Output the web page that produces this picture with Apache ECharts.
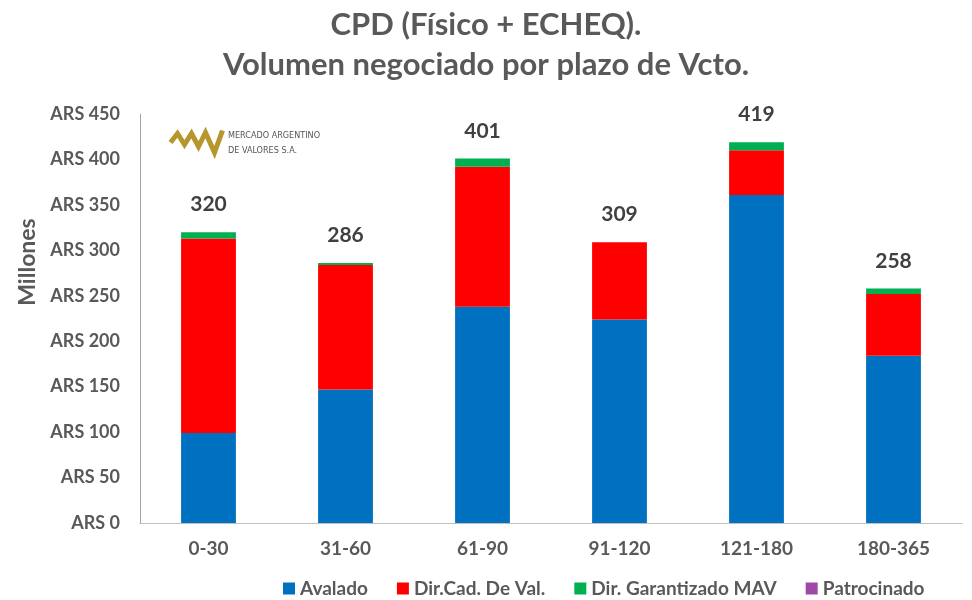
<!DOCTYPE html>
<html>
<head>
<meta charset="utf-8">
<script src="https://cdn.jsdelivr.net/npm/echarts@6/dist/echarts.min.js"></script>
<style>
  html, body {margin:0; padding:0; background:#fff;}
  #chart {width:972px; height:600px;}
</style>
</head>
<body>
<div id="chart"></div>
<script>
// datos (millones de ARS)
var plazos = ['0-30', '31-60', '61-90', '91-120', '121-180', '180-365'];
var avalado = [99, 147, 238, 224, 361, 184];
var dirCad = [214, 137, 154, 85, 49, 68];
var dirGarantizado = [7, 2, 9, 0, 9, 6];
var patrocinado = [0, 0, 0, 0, 0, 0];
var totales = [320, 286, 401, 309, 419, 258];

var chartDom = document.getElementById('chart');
var myChart = echarts.init(chartDom);
var fuente = 'Lato, "Open Sans", sans-serif';

var option = {
    animation: false,
    textStyle: {fontFamily: fuente},
    title: {
        text: 'CPD (Físico + ECHEQ).\nVolumen negociado por plazo de Vcto.',
        left: 'center',
        top: 0,
        textStyle: {fontSize: 31, fontWeight: 'bold', color: '#595959', lineHeight: 40, fontFamily: fuente}
    },
    legend: {
        data: ['Avalado', 'Dir.Cad. De Val.', 'Dir. Garantizado MAV', 'Patrocinado'],
        left: 278,
        top: 574,
        itemWidth: 12,
        itemHeight: 12,
        itemGap: 29,
        icon: 'rect',
        textStyle: {fontSize: 19, fontWeight: 'bold', color: '#595959', fontFamily: fuente}
    },
    grid: {left: 140, right: 10, top: 114, bottom: 77},
    xAxis: {
        type: 'category',
        data: plazos,
        axisLine: {lineStyle: {color: '#bfbfbf'}},
        axisTick: {show: false},
        axisLabel: {fontSize: 19, fontWeight: 'bold', color: '#595959', margin: 16}
    },
    yAxis: {
        type: 'value',
        min: 0,
        max: 450,
        interval: 50,
        axisLine: {show: true, lineStyle: {color: '#a6a6a6'}},
        axisTick: {show: false},
        splitLine: {show: false},
        axisLabel: {formatter: 'ARS {value}', fontSize: 18, fontWeight: 'bold', color: '#595959', margin: 20}
    },
    series: [
        {name: 'Avalado', type: 'bar', stack: 'total', barWidth: '40%', data: avalado, itemStyle: {color: '#0070c0'}},
        {name: 'Dir.Cad. De Val.', type: 'bar', stack: 'total', data: dirCad, itemStyle: {color: '#ff0000'}},
        {name: 'Dir. Garantizado MAV', type: 'bar', stack: 'total', data: dirGarantizado, itemStyle: {color: '#00b050'}},
        {
            name: 'Patrocinado', type: 'bar', stack: 'total', data: patrocinado,
            itemStyle: {color: '#9e48a8'},
            label: {
                show: true,
                position: 'top',
                distance: 17,
                formatter: function (p) { return totales[p.dataIndex]; },
                fontSize: 21,
                fontWeight: 'bold',
                color: '#404040'
            }
        }
    ],
    graphic: [
        // titulo del eje y (desplazado hacia arriba como en el original)
        {type: 'text', x: 28, y: 262, rotation: Math.PI / 2,
         style: {text: 'Millones', align: 'center', verticalAlign: 'middle', fill: '#595959', font: 'bold 23px Lato, sans-serif'}},
        // logo MAV
        {type: 'polyline', left: 168, top: 128, shape: {points: [[0,12],[7,3],[14,14],[21,3],[28,16],[35,2],[44,22],[52,0]]},
         style: {stroke: '#b8962e', lineWidth: 5, fill: null}},
        {type: 'text', left: 228, top: 128, style: {text: 'MERCADO ARGENTINO\nDE VALORES S.A.', font: '9px "Liberation Sans Narrow", "DejaVu Sans Condensed", sans-serif', fill: '#555555', lineHeight: 15}}
    ]
};

myChart.setOption(option);
</script>
</body>
</html>
